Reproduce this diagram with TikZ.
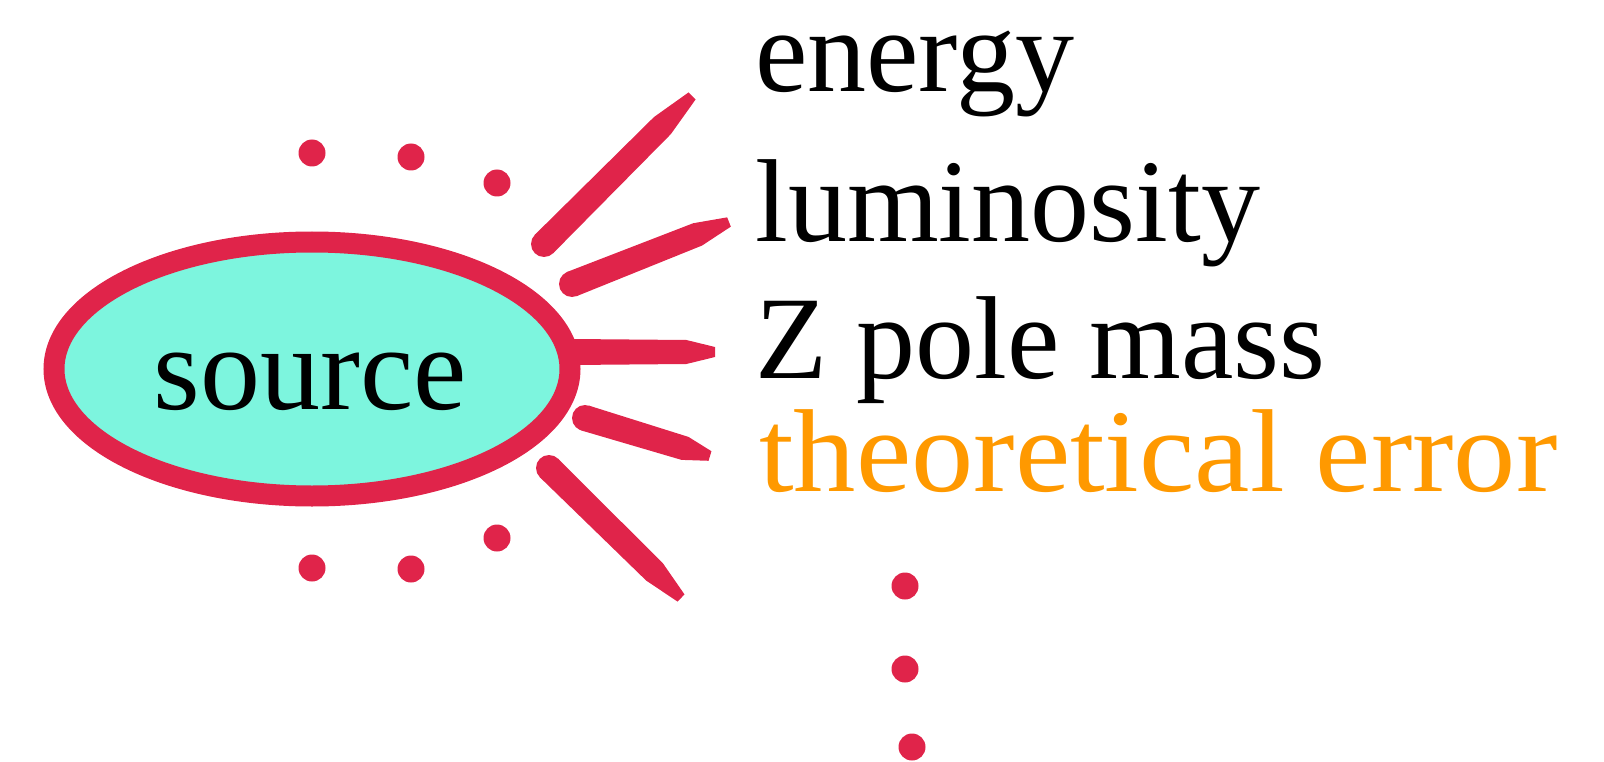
\documentclass[tikz,border=0pt]{standalone}
\usepackage{fontspec}
\setmainfont{Liberation Serif}
\usetikzlibrary{calc}
\definecolor{rayred}{HTML}{E0244A}
\definecolor{aqua}{HTML}{7DF5DE}
\definecolor{orng}{HTML}{FF9900}
\newcommand\brushray[2]{%
  \coordinate (bm) at ($(#1)!0.8!(#2)$);
  \fill[rayred] ($(#1)!13pt!90:(#2)$) -- ($(bm)!12pt!90:(#2)$) -- ($(#2)!5pt!-90:(#1)$) -- ($(#2)!5pt!90:(#1)$) -- ($(bm)!12pt!-90:(#2)$) -- ($(#1)!13pt!-90:(#2)$) -- cycle;
  \fill[rayred] (#1) circle[radius=13pt];}
\begin{document}
\begin{tikzpicture}[x=1pt,y=-1pt,
  dot/.style={circle,fill=rayred,inner sep=0pt,minimum size=27pt},
  lbl/.style={anchor=base west,inner sep=0pt,font=\fontsize{118}{140}\selectfont}]
\useasboundingbox (0,0) rectangle (1604,762);
% source ellipse
\draw[draw=rayred,fill=aqua,line width=21pt] (312,369) ellipse [x radius=258,y radius=127];
\node[anchor=base,inner sep=0pt,font=\fontsize{120}{140}\selectfont] (src) at (310,409) {source};
% rays
\coordinate (r1a) at (544,244); \coordinate (r1b) at (692,96);
\coordinate (r2a) at (572,284); \coordinate (r2b) at (729,222);
\coordinate (r3a) at (572,352); \coordinate (r3b) at (715,352);
\coordinate (r4a) at (585,418); \coordinate (r4b) at (710,456);
\coordinate (r5a) at (549,468); \coordinate (r5b) at (681,598);
\brushray{r1a}{r1b}
\brushray{r2a}{r2b}
\brushray{r3a}{r3b}
\brushray{r4a}{r4b}
\brushray{r5a}{r5b}
% dots
\node[dot] (d1) at (312,153) {};
\node[dot] (d2) at (411,157) {};
\node[dot] (d3) at (497,183) {};
\node[dot] (d4) at (312,568) {};
\node[dot] (d5) at (411,569) {};
\node[dot] (d6) at (497,538) {};
\node[dot] (d7) at (905,586) {};
\node[dot] (d8) at (905,669) {};
\node[dot] (d9) at (912,747) {};
% labels
\node[lbl] (t1) at (755,92) {energy};
\node[lbl] (t2) at (755,242) {luminosity};
\node[lbl] (t3) at (755,378) {Z pole mass};
\node[lbl,text=orng,xscale=1.055] (t4) at (759,491) {theoretical error};
\end{tikzpicture}
\end{document}
